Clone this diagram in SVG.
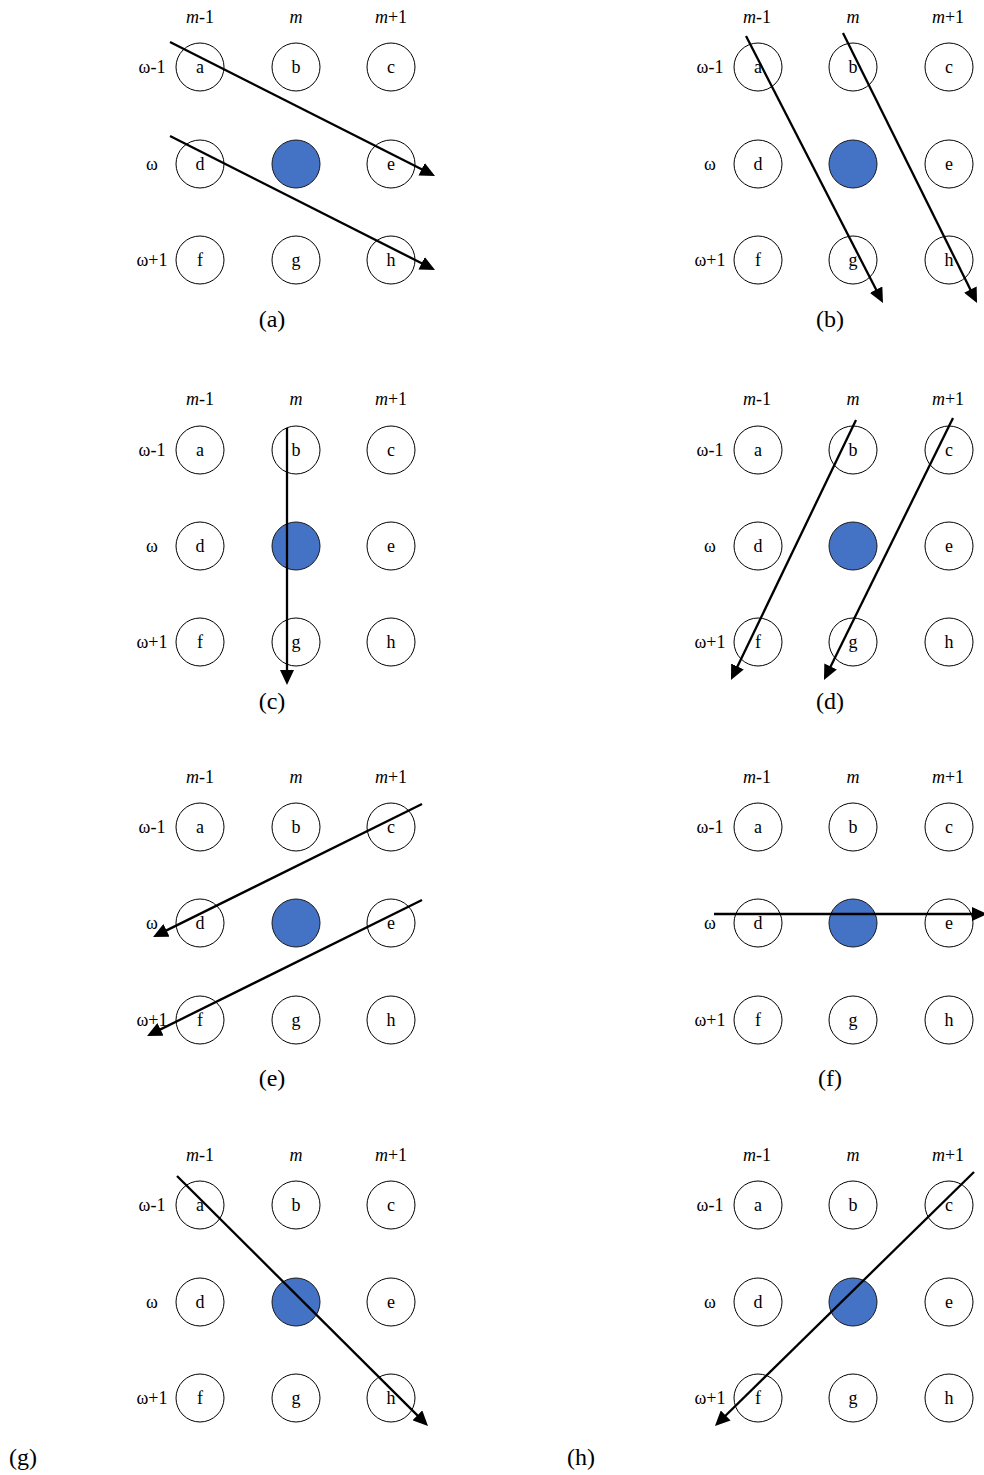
<svg xmlns="http://www.w3.org/2000/svg" width="984" height="1475" viewBox="0 0 984 1475">
<style>
text{font-family:"Liberation Serif","Times New Roman",serif;fill:#000}
.n{fill:#fff;stroke:#000;stroke-width:1}
.c{fill:#4472C4;stroke:#1a1a1a;stroke-width:1}
.t{font-size:18px;text-anchor:middle}
.cap{font-size:24px;text-anchor:middle}
.e{stroke:#000;stroke-width:2.3;fill:none;marker-end:url(#ah)}
</style>
<defs>
<marker id="ah" markerUnits="userSpaceOnUse" markerWidth="16" markerHeight="14" refX="5" refY="7" orient="auto" viewBox="0 0 16 14">
<path d="M0,0 L15,7 L0,14 Z" fill="#000"/>
</marker>
</defs>
<rect width="984" height="1475" fill="#fff"/>

<!-- Panel a -->
<g id="panel-a">
<text class="t" x="200" y="23"><tspan font-style="italic">m</tspan>-1</text>
<text class="t" x="296" y="23" font-style="italic">m</text>
<text class="t" x="391" y="23"><tspan font-style="italic">m</tspan>+1</text>
<text class="t" x="152" y="73">ω-1</text>
<text class="t" x="152" y="170">ω</text>
<text class="t" x="152" y="266">ω+1</text>
<g id="a-a"><circle class="n" cx="200" cy="67" r="24"/><text class="t" x="200" y="73">a</text></g>
<g id="a-b"><circle class="n" cx="296" cy="67" r="24"/><text class="t" x="296" y="73">b</text></g>
<g id="a-c"><circle class="n" cx="391" cy="67" r="24"/><text class="t" x="391" y="73">c</text></g>
<g id="a-d"><circle class="n" cx="200" cy="164" r="24"/><text class="t" x="200" y="170">d</text></g>
<g id="a-x"><circle class="c" cx="296" cy="164" r="24"/></g>
<g id="a-e"><circle class="n" cx="391" cy="164" r="24"/><text class="t" x="391" y="170">e</text></g>
<g id="a-f"><circle class="n" cx="200" cy="260" r="24"/><text class="t" x="200" y="266">f</text></g>
<g id="a-g"><circle class="n" cx="296" cy="260" r="24"/><text class="t" x="296" y="266">g</text></g>
<g id="a-h"><circle class="n" cx="391" cy="260" r="24"/><text class="t" x="391" y="266">h</text></g>
<text class="cap" x="272" y="327">(a)</text>
</g>

<!-- Panel b -->
<g id="panel-b">
<text class="t" x="757" y="23"><tspan font-style="italic">m</tspan>-1</text>
<text class="t" x="853" y="23" font-style="italic">m</text>
<text class="t" x="948" y="23"><tspan font-style="italic">m</tspan>+1</text>
<text class="t" x="710" y="73">ω-1</text>
<text class="t" x="710" y="170">ω</text>
<text class="t" x="710" y="266">ω+1</text>
<g id="b-a"><circle class="n" cx="758" cy="67" r="24"/><text class="t" x="758" y="73">a</text></g>
<g id="b-b"><circle class="n" cx="853" cy="67" r="24"/><text class="t" x="853" y="73">b</text></g>
<g id="b-c"><circle class="n" cx="949" cy="67" r="24"/><text class="t" x="949" y="73">c</text></g>
<g id="b-d"><circle class="n" cx="758" cy="164" r="24"/><text class="t" x="758" y="170">d</text></g>
<g id="b-x"><circle class="c" cx="853" cy="164" r="24"/></g>
<g id="b-e"><circle class="n" cx="949" cy="164" r="24"/><text class="t" x="949" y="170">e</text></g>
<g id="b-f"><circle class="n" cx="758" cy="260" r="24"/><text class="t" x="758" y="266">f</text></g>
<g id="b-g"><circle class="n" cx="853" cy="260" r="24"/><text class="t" x="853" y="266">g</text></g>
<g id="b-h"><circle class="n" cx="949" cy="260" r="24"/><text class="t" x="949" y="266">h</text></g>
<text class="cap" x="830" y="327">(b)</text>
</g>

<!-- Panel c -->
<g id="panel-c">
<text class="t" x="200" y="405"><tspan font-style="italic">m</tspan>-1</text>
<text class="t" x="296" y="405" font-style="italic">m</text>
<text class="t" x="391" y="405"><tspan font-style="italic">m</tspan>+1</text>
<text class="t" x="152" y="456">ω-1</text>
<text class="t" x="152" y="552">ω</text>
<text class="t" x="152" y="648">ω+1</text>
<g id="c-a"><circle class="n" cx="200" cy="450" r="24"/><text class="t" x="200" y="456">a</text></g>
<g id="c-b"><circle class="n" cx="296" cy="450" r="24"/><text class="t" x="296" y="456">b</text></g>
<g id="c-c"><circle class="n" cx="391" cy="450" r="24"/><text class="t" x="391" y="456">c</text></g>
<g id="c-d"><circle class="n" cx="200" cy="546" r="24"/><text class="t" x="200" y="552">d</text></g>
<g id="c-x"><circle class="c" cx="296" cy="546" r="24"/></g>
<g id="c-e"><circle class="n" cx="391" cy="546" r="24"/><text class="t" x="391" y="552">e</text></g>
<g id="c-f"><circle class="n" cx="200" cy="642" r="24"/><text class="t" x="200" y="648">f</text></g>
<g id="c-g"><circle class="n" cx="296" cy="642" r="24"/><text class="t" x="296" y="648">g</text></g>
<g id="c-h"><circle class="n" cx="391" cy="642" r="24"/><text class="t" x="391" y="648">h</text></g>
<text class="cap" x="272" y="709">(c)</text>
</g>

<!-- Panel d -->
<g id="panel-d">
<text class="t" x="757" y="405"><tspan font-style="italic">m</tspan>-1</text>
<text class="t" x="853" y="405" font-style="italic">m</text>
<text class="t" x="948" y="405"><tspan font-style="italic">m</tspan>+1</text>
<text class="t" x="710" y="456">ω-1</text>
<text class="t" x="710" y="552">ω</text>
<text class="t" x="710" y="648">ω+1</text>
<g id="d-a"><circle class="n" cx="758" cy="450" r="24"/><text class="t" x="758" y="456">a</text></g>
<g id="d-b"><circle class="n" cx="853" cy="450" r="24"/><text class="t" x="853" y="456">b</text></g>
<g id="d-c"><circle class="n" cx="949" cy="450" r="24"/><text class="t" x="949" y="456">c</text></g>
<g id="d-d"><circle class="n" cx="758" cy="546" r="24"/><text class="t" x="758" y="552">d</text></g>
<g id="d-x"><circle class="c" cx="853" cy="546" r="24"/></g>
<g id="d-e"><circle class="n" cx="949" cy="546" r="24"/><text class="t" x="949" y="552">e</text></g>
<g id="d-f"><circle class="n" cx="758" cy="642" r="24"/><text class="t" x="758" y="648">f</text></g>
<g id="d-g"><circle class="n" cx="853" cy="642" r="24"/><text class="t" x="853" y="648">g</text></g>
<g id="d-h"><circle class="n" cx="949" cy="642" r="24"/><text class="t" x="949" y="648">h</text></g>
<text class="cap" x="830" y="709">(d)</text>
</g>

<!-- Panel e -->
<g id="panel-e">
<text class="t" x="200" y="783"><tspan font-style="italic">m</tspan>-1</text>
<text class="t" x="296" y="783" font-style="italic">m</text>
<text class="t" x="391" y="783"><tspan font-style="italic">m</tspan>+1</text>
<text class="t" x="152" y="833">ω-1</text>
<text class="t" x="152" y="929">ω</text>
<text class="t" x="152" y="1026">ω+1</text>
<g id="e-a"><circle class="n" cx="200" cy="827" r="24"/><text class="t" x="200" y="833">a</text></g>
<g id="e-b"><circle class="n" cx="296" cy="827" r="24"/><text class="t" x="296" y="833">b</text></g>
<g id="e-c"><circle class="n" cx="391" cy="827" r="24"/><text class="t" x="391" y="833">c</text></g>
<g id="e-d"><circle class="n" cx="200" cy="923" r="24"/><text class="t" x="200" y="929">d</text></g>
<g id="e-x"><circle class="c" cx="296" cy="923" r="24"/></g>
<g id="e-e"><circle class="n" cx="391" cy="923" r="24"/><text class="t" x="391" y="929">e</text></g>
<g id="e-f"><circle class="n" cx="200" cy="1020" r="24"/><text class="t" x="200" y="1026">f</text></g>
<g id="e-g"><circle class="n" cx="296" cy="1020" r="24"/><text class="t" x="296" y="1026">g</text></g>
<g id="e-h"><circle class="n" cx="391" cy="1020" r="24"/><text class="t" x="391" y="1026">h</text></g>
<text class="cap" x="272" y="1086">(e)</text>
</g>

<!-- Panel f -->
<g id="panel-f">
<text class="t" x="757" y="783"><tspan font-style="italic">m</tspan>-1</text>
<text class="t" x="853" y="783" font-style="italic">m</text>
<text class="t" x="948" y="783"><tspan font-style="italic">m</tspan>+1</text>
<text class="t" x="710" y="833">ω-1</text>
<text class="t" x="710" y="929">ω</text>
<text class="t" x="710" y="1026">ω+1</text>
<g id="f-a"><circle class="n" cx="758" cy="827" r="24"/><text class="t" x="758" y="833">a</text></g>
<g id="f-b"><circle class="n" cx="853" cy="827" r="24"/><text class="t" x="853" y="833">b</text></g>
<g id="f-c"><circle class="n" cx="949" cy="827" r="24"/><text class="t" x="949" y="833">c</text></g>
<g id="f-d"><circle class="n" cx="758" cy="923" r="24"/><text class="t" x="758" y="929">d</text></g>
<g id="f-x"><circle class="c" cx="853" cy="923" r="24"/></g>
<g id="f-e"><circle class="n" cx="949" cy="923" r="24"/><text class="t" x="949" y="929">e</text></g>
<g id="f-f"><circle class="n" cx="758" cy="1020" r="24"/><text class="t" x="758" y="1026">f</text></g>
<g id="f-g"><circle class="n" cx="853" cy="1020" r="24"/><text class="t" x="853" y="1026">g</text></g>
<g id="f-h"><circle class="n" cx="949" cy="1020" r="24"/><text class="t" x="949" y="1026">h</text></g>
<text class="cap" x="830" y="1086">(f)</text>
</g>

<!-- Panel g -->
<g id="panel-g">
<text class="t" x="200" y="1161"><tspan font-style="italic">m</tspan>-1</text>
<text class="t" x="296" y="1161" font-style="italic">m</text>
<text class="t" x="391" y="1161"><tspan font-style="italic">m</tspan>+1</text>
<text class="t" x="152" y="1211">ω-1</text>
<text class="t" x="152" y="1308">ω</text>
<text class="t" x="152" y="1404">ω+1</text>
<g id="g-a"><circle class="n" cx="200" cy="1205" r="24"/><text class="t" x="200" y="1211">a</text></g>
<g id="g-b"><circle class="n" cx="296" cy="1205" r="24"/><text class="t" x="296" y="1211">b</text></g>
<g id="g-c"><circle class="n" cx="391" cy="1205" r="24"/><text class="t" x="391" y="1211">c</text></g>
<g id="g-d"><circle class="n" cx="200" cy="1302" r="24"/><text class="t" x="200" y="1308">d</text></g>
<g id="g-x"><circle class="c" cx="296" cy="1302" r="24"/></g>
<g id="g-e"><circle class="n" cx="391" cy="1302" r="24"/><text class="t" x="391" y="1308">e</text></g>
<g id="g-f"><circle class="n" cx="200" cy="1398" r="24"/><text class="t" x="200" y="1404">f</text></g>
<g id="g-g"><circle class="n" cx="296" cy="1398" r="24"/><text class="t" x="296" y="1404">g</text></g>
<g id="g-h"><circle class="n" cx="391" cy="1398" r="24"/><text class="t" x="391" y="1404">h</text></g>
<text class="cap" x="23" y="1465">(g)</text>
</g>

<!-- Panel h -->
<g id="panel-h">
<text class="t" x="757" y="1161"><tspan font-style="italic">m</tspan>-1</text>
<text class="t" x="853" y="1161" font-style="italic">m</text>
<text class="t" x="948" y="1161"><tspan font-style="italic">m</tspan>+1</text>
<text class="t" x="710" y="1211">ω-1</text>
<text class="t" x="710" y="1308">ω</text>
<text class="t" x="710" y="1404">ω+1</text>
<g id="h-a"><circle class="n" cx="758" cy="1205" r="24"/><text class="t" x="758" y="1211">a</text></g>
<g id="h-b"><circle class="n" cx="853" cy="1205" r="24"/><text class="t" x="853" y="1211">b</text></g>
<g id="h-c"><circle class="n" cx="949" cy="1205" r="24"/><text class="t" x="949" y="1211">c</text></g>
<g id="h-d"><circle class="n" cx="758" cy="1302" r="24"/><text class="t" x="758" y="1308">d</text></g>
<g id="h-x"><circle class="c" cx="853" cy="1302" r="24"/></g>
<g id="h-e"><circle class="n" cx="949" cy="1302" r="24"/><text class="t" x="949" y="1308">e</text></g>
<g id="h-f"><circle class="n" cx="758" cy="1398" r="24"/><text class="t" x="758" y="1404">f</text></g>
<g id="h-g"><circle class="n" cx="853" cy="1398" r="24"/><text class="t" x="853" y="1404">g</text></g>
<g id="h-h"><circle class="n" cx="949" cy="1398" r="24"/><text class="t" x="949" y="1404">h</text></g>
<text class="cap" x="581" y="1465">(h)</text>
</g>

<g id="connectors">
<line class="e" x1="170" y1="42" x2="426.1" y2="171.5"/>
<line class="e" x1="170" y1="136" x2="426.1" y2="265.5"/>
<line class="e" x1="746" y1="36" x2="878.4" y2="294.1"/>
<line class="e" x1="843" y1="33" x2="972.6" y2="294"/>
<line class="e" x1="287" y1="428" x2="287" y2="675"/>
<line class="e" x1="856" y1="420" x2="735.3" y2="671"/>
<line class="e" x1="953" y1="418" x2="828.4" y2="671"/>
<line class="e" x1="422" y1="804" x2="162" y2="932.6"/>
<line class="e" x1="422" y1="900" x2="156" y2="1031.6"/>
<line class="e" x1="714" y1="914" x2="977" y2="914"/>
<line class="e" x1="177" y1="1176" x2="420.9" y2="1418.9"/>
<line class="e" x1="974" y1="1172" x2="722.1" y2="1419"/>
</g>
</svg>
